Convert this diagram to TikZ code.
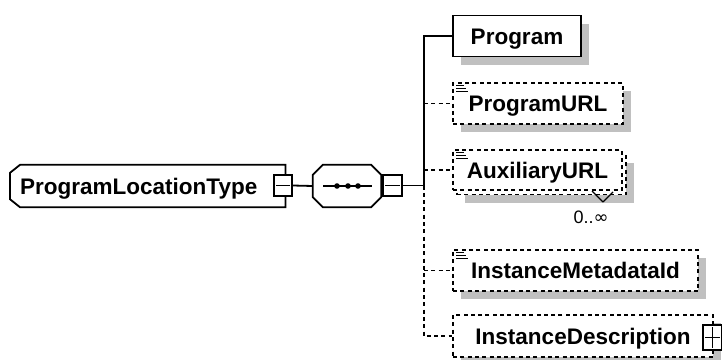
\documentclass[tikz,border=0pt]{standalone}
\usepackage{fontspec}
\setmainfont{Liberation Sans}
\newfontfamily\symfont{DejaVu Sans}
\usetikzlibrary{shadows,backgrounds}
\definecolor{shade}{RGB}{192,192,192}
\tikzset{
  lw/.style={line width=1.8pt},
  elemfont/.style={font=\fontsize{22.5}{24}\selectfont\bfseries, text height=16pt, text depth=0pt},
  elem/.style={draw, lw, fill=white, elemfont, inner sep=0pt,
    general shadow={fill=shade, shadow xshift=8pt, shadow yshift=-8pt}},
  optdash/.style={dash pattern=on 4pt off 3.3pt},
  optelem/.style={elem, optdash},
  backbox/.style={draw, lw, optdash, fill=white, inner sep=0pt,
    general shadow={fill=shade, shadow xshift=8pt, shadow yshift=-8pt}},
  frontbox/.style={draw, lw, optdash, fill=white, elemfont, inner sep=0pt},
  ctrlbox/.style={draw, lw, fill=white, inner sep=0pt},
  conn/.style={lw},
  optconn/.style={lw, optdash},
  icon/.style={line width=1.1pt},
}
\begin{document}
\begin{tikzpicture}[x=1pt,y=-1pt]
\useasboundingbox (0,0) rectangle (722,359);

% root element
\node[elemfont, anchor=west, inner ysep=0pt, inner xsep=10pt, text width=255pt, align=left, minimum height=42pt] (plt) at (10,186) {ProgramLocationType};
\begin{scope}[on background layer]
  \fill[shade, xshift=8pt, yshift=-8pt] ([xshift=10pt]plt.north west) -- (plt.north east) -- (plt.south east) -- ([xshift=10pt]plt.south west) -- ([yshift=8pt]plt.south west) -- ([yshift=-8pt]plt.north west) -- cycle;
  \draw[lw, fill=white] ([xshift=10pt]plt.north west) -- (plt.north east) -- (plt.south east) -- ([xshift=10pt]plt.south west) -- ([yshift=8pt]plt.south west) -- ([yshift=-8pt]plt.north west) -- cycle;
\end{scope}
\node[ctrlbox, minimum width=18pt, minimum height=21pt] (pltminus) at (283,185.5) {};
\draw[lw] ([xshift=3pt]pltminus.west) -- ([xshift=-3pt]pltminus.east);

% sequence compositor
\node[minimum width=68pt, minimum height=42pt, inner sep=0pt] (seq) at (347,186) {};
\fill[shade, xshift=8pt, yshift=-8pt] ([xshift=10pt]seq.north west) -- ([xshift=-10pt]seq.north east) -- ([yshift=-10pt]seq.north east) -- ([yshift=10pt]seq.south east) -- ([xshift=-10pt]seq.south east) -- ([xshift=10pt]seq.south west) -- ([yshift=10pt]seq.south west) -- ([yshift=-10pt]seq.north west) -- cycle;
\draw[lw, fill=white] ([xshift=10pt]seq.north west) -- ([xshift=-10pt]seq.north east) -- ([yshift=-10pt]seq.north east) -- ([yshift=10pt]seq.south east) -- ([xshift=-10pt]seq.south east) -- ([xshift=10pt]seq.south west) -- ([yshift=10pt]seq.south west) -- ([yshift=-10pt]seq.north west) -- cycle;
\draw[lw] ([xshift=-24pt]seq.center) -- ([xshift=25pt]seq.center);
\foreach \dx in {-10,1,11} \fill ([xshift=\dx pt]seq.center) circle (2.8pt);
\node[ctrlbox, minimum width=19pt, minimum height=21pt] (seqminus) at (392.5,185.5) {};
\draw[lw] ([xshift=3pt]seqminus.west) -- ([xshift=-3pt]seqminus.east);

% children
\node[elem, minimum width=128pt, minimum height=41pt] (prog) at (517,36) {Program};
\node[optelem, minimum width=170pt, minimum height=41pt] (url) at (538,103.5) {ProgramURL};
\node[backbox, minimum width=169pt, minimum height=40pt] (auxb) at (541.5,174.5) {};
\node[frontbox, minimum width=169pt, minimum height=40pt] (aux) at (537.5,170) {AuxiliaryURL};
\node[optelem, minimum width=245pt, minimum height=41pt] (meta) at (575.5,270.5) {InstanceMetadataId};
\node[optelem, minimum width=260pt, minimum height=42pt] (desc) at (583,336) {InstanceDescription};
\node[ctrlbox, minimum width=19pt, minimum height=25pt] (descplus) at (712.5,337.5) {};
\draw[lw] ([xshift=3pt]descplus.west) -- ([xshift=-3pt]descplus.east);
\draw[lw] ([yshift=-3pt]descplus.north) -- ([yshift=3pt]descplus.south);

% multiplicity
\coordinate (chv) at (603,202);
\draw[line width=1.1pt] (chv) -- ++(-11,-11) (chv) -- ++(10,-10);
\node[font=\fontsize{18}{20}\selectfont, inner sep=0pt] (mult) at (591,217) {0..{\symfont ∞}};

% simple-content icons
\foreach \n in {url, aux, meta} {
  \draw[icon] ([xshift=4pt,yshift=-3pt]\n.north west) -- ++(8,0);
  \draw[icon] ([xshift=4pt,yshift=-6pt]\n.north west) -- ++(10,0);
  \draw[icon] ([xshift=4pt,yshift=-9pt]\n.north west) -- ++(12,0);
}

% connectors
\coordinate (trunk) at (424,185.5);
\draw[conn] (pltminus.east) -- (seq.west);
\draw[conn] (seqminus.east) -- (trunk);
\draw[conn] (trunk) |- (prog.west);
\draw[optconn] (trunk) |- (desc.west);
\draw[optconn] (trunk|-url.west) -- (url.west);
\draw[optconn] (trunk|-aux.west) -- (aux.west);
\draw[optconn] (trunk|-meta.west) -- (meta.west);
\end{tikzpicture}
\end{document}
